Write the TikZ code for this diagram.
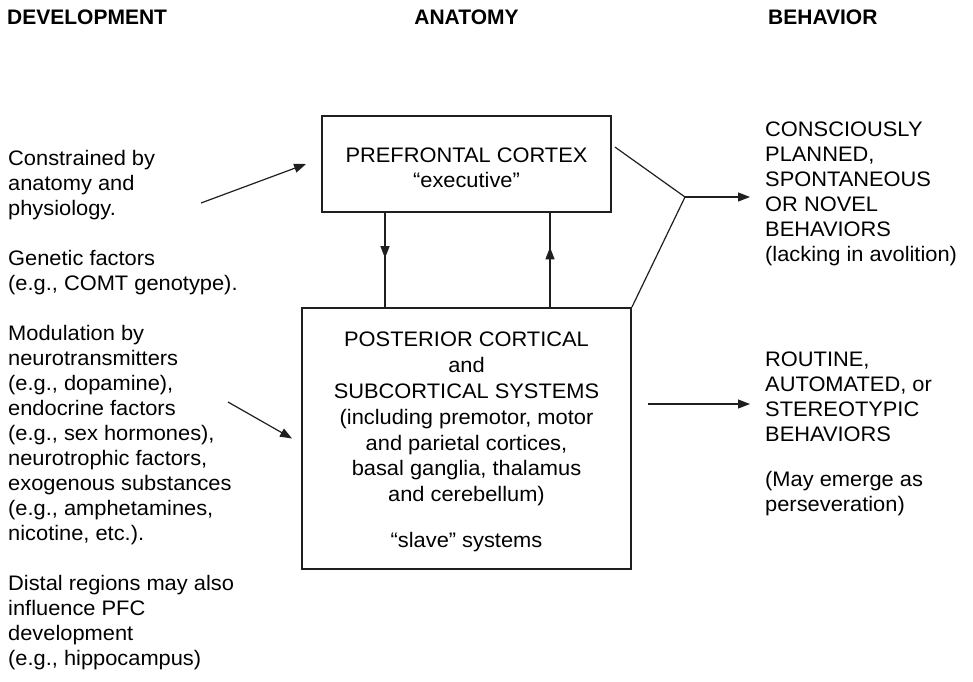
\documentclass[tikz,border=0pt]{standalone}
\usepackage{fontspec}
\setmainfont{Liberation Sans}[FakeStretch=1.04]
\newfontfamily\headfont{Liberation Sans}
\usetikzlibrary{arrows.meta,decorations.markings,calc}
\begin{document}
\begin{tikzpicture}[x=1pt,y=-1pt,
  head/.style={inner sep=0pt, font=\headfont\fontsize{21}{24}\selectfont\bfseries},
  lefttxt/.style={inner sep=0pt, anchor=north west, align=left,
    font=\fontsize{21}{25}\selectfont},
  righttxt/.style={inner sep=0pt, anchor=north west, align=left,
    font=\fontsize{21}{25}\selectfont},
  boxtxt/.style={inner sep=0pt, anchor=north, align=center},
  box/.style={draw=black!88, line width=1.9pt, inner sep=0pt},
  conn/.style={draw=black!88, line width=1.2pt},
  arr/.style={conn, -{Triangle[length=12pt,width=9pt]}},
  midarr/.style={conn, postaction=decorate, decoration={markings,
    mark=at position #1 with {\arrow{Triangle[length=12pt,width=9pt]}}}},
]
\useasboundingbox (0,0) rectangle (973,681);

% column headings
\node[head, anchor=base west] (hdev) at (7,24) {DEVELOPMENT};
\node[head, anchor=base] (hana) at (466.5,24) {ANATOMY};
\node[head, anchor=base west] (hbeh) at (768,24) {BEHAVIOR};

% boxes
\node[box, minimum width=289pt, minimum height=96pt] (pfc) at (466.5,164) {};
\node[box, minimum width=329pt, minimum height=261pt] (post) at (466.5,438.5) {};

\node[boxtxt, font=\fontsize{21}{25}\selectfont] (pfctxt) at (466.5,148)
  {PREFRONTAL CORTEX\\“executive”};
\node[boxtxt, font=\fontsize{21}{25.8}\selectfont] (posttxt) at (466.5,332)
  {POSTERIOR CORTICAL\\and\\SUBCORTICAL SYSTEMS\\(including premotor, motor\\
   and parietal cortices,\\basal ganglia, thalamus\\and cerebellum)\\[20pt]
   “slave” systems};

% development column
\node[lefttxt] (dev1) at (8,149.7) {Constrained by\\anatomy and\\physiology.};
\node[lefttxt] (dev2) at (8,249.7) {Genetic factors\\(e.g., COMT genotype).};
\node[lefttxt] (dev3) at (8,324.7) {Modulation by\\neurotransmitters\\(e.g., dopamine),\\
  endocrine factors\\(e.g., sex hormones),\\neurotrophic factors,\\
  exogenous substances\\(e.g., amphetamines,\\nicotine, etc.).};
\node[lefttxt] (dev4) at (8,574.7) {Distal regions may also\\influence PFC\\
  development\\(e.g., hippocampus)};

% behaviour column
\node[righttxt] (beh1) at (765,121.7) {CONSCIOUSLY\\PLANNED,\\SPONTANEOUS\\
  OR NOVEL\\BEHAVIORS\\(lacking in avolition)};
\node[righttxt] (beh2) at (765,351.7) {ROUTINE,\\AUTOMATED, or\\STEREOTYPIC\\
  BEHAVIORS\\[20pt](May emerge as\\perseveration)};

% connectors
\coordinate (a1) at (201,203);
\coordinate (a2) at (228,402);
\draw[arr] (a1) -- ([xshift=-15pt]pfc.west);
\draw[arr] (a2) -- ([xshift=-9pt]post.west);

\coordinate (dx) at (385,0);
\coordinate (ux) at (550,0);
\draw[midarr=0.48] (dx |- pfc.south) -- (dx |- post.north);
\draw[midarr=0.635] (ux |- post.north) -- (ux |- pfc.south);

\coordinate (ps) at ($(pfc.north east)+(3,32)$);
\coordinate (j) at (685,197);
\draw[conn] (ps) -- (j) -- (post.north east);
\draw[arr, shorten >=15pt] (j) -- (j -| beh1.west);

\coordinate (b1) at (648,404);
\draw[arr, shorten >=15pt] (b1) -- (b1 -| beh2.west);
\end{tikzpicture}
\end{document}
